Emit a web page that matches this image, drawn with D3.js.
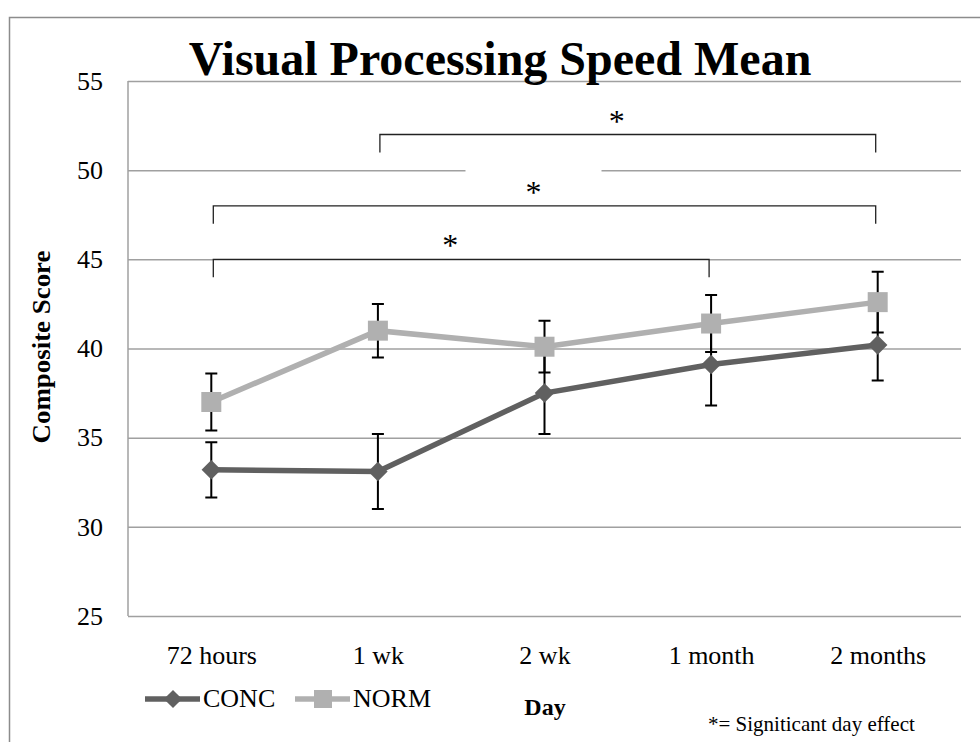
<!DOCTYPE html>
<html>
<head>
<meta charset="utf-8">
<script src="https://cdn.jsdelivr.net/npm/d3@7"></script>
<style>
    body { margin: 0; background: #fff; }
    svg text { font-family: "Liberation Serif", "Times New Roman", serif; }
</style>
</head>
<body>
<div id="chart"></div>
<script>
// values
const days = ["72 hours", "1 wk", "2 wk", "1 month", "2 months"];
const concMean = [33.2, 33.1, 37.5, 39.1, 40.2];
const concErr = [1.55, 2.1, 2.3, 2.3, 2.0];
const normMean = [37.0, 41.0, 40.1, 41.4, 42.6];
const normErr = [1.6, 1.5, 1.45, 1.6, 1.7];
const yTicks = [25, 30, 35, 40, 45, 50, 55];
// significance brackets: day index from -> to, drawn at a score level
const bracketFrom = [1, 0, 0];
const bracketTo = [4, 4, 3];
const bracketLevel = [52, 48, 45];

class Chart {
    constructor() {
        this._width = 980;
        this._height = 742;
        this._margins = {top: 81, left: 128, right: 19, bottom: 126};
        this._svg = null;
        this._body = null;
    }

    getBodyWidth() {
        return this._width - this._margins.left - this._margins.right;
    }

    getBodyHeight() {
        return this._height - this._margins.top - this._margins.bottom;
    }

    renderChart() {
        this._svg = d3.select("#chart").append("svg")
            .attr("width", this._width)
            .attr("height", this._height);

        // outer frame (only top and left edges are in view)
        this._svg.append("path")
            .attr("d", "M9.5,742 V17.5 H980")
            .attr("fill", "none")
            .attr("stroke", "#8c8c8c")
            .attr("stroke-width", 1.5);

        this._body = this._svg.append("g")
            .attr("transform", `translate(${this._margins.left},${this._margins.top})`);

        this._scaleX = d3.scalePoint().domain(days).range([0, this.getBodyWidth()]).padding(0.5);
        this._scaleY = d3.scaleLinear().domain([25, 55]).range([this.getBodyHeight(), 0]);

        this.renderAxes();
        this.renderBrackets();
        this.renderSeries(concMean, concErr, "#606060", "diamond");
        this.renderSeries(normMean, normErr, "#b0b0b0", "square");
        this.renderTexts();
    }

    renderAxes() {
        const x = this._scaleX, y = this._scaleY;

        const yAxis = this._body.append("g")
            .call(d3.axisLeft(y).tickValues(yTicks).tickSize(-this.getBodyWidth()).tickPadding(25).tickFormat(d3.format("d")));
        yAxis.select(".domain").remove();
        yAxis.selectAll(".tick line").attr("stroke", "#a0a0a0").attr("stroke-width", 1.5);
        yAxis.selectAll(".tick text").attr("font-size", 26).attr("fill", "#000")
            .attr("font-family", "'Liberation Serif', serif");

        this._body.append("line")
            .attr("x1", 0).attr("x2", 0)
            .attr("y1", 0).attr("y2", this.getBodyHeight())
            .attr("stroke", "#a0a0a0").attr("stroke-width", 1.5);

        const xAxis = this._body.append("g")
            .attr("transform", `translate(0,${this.getBodyHeight()})`)
            .call(d3.axisBottom(x).tickSize(0).tickPadding(30));
        xAxis.select(".domain").remove();
        xAxis.selectAll(".tick text").attr("font-size", 26).attr("fill", "#000")
            .attr("font-family", "'Liberation Serif', serif");
    }

    renderBrackets() {
        const x = this._scaleX, y = this._scaleY;
        const labels = this._body.append("g");
        const lines = this._body.append("g");
        bracketFrom.forEach((f, i) => {
            const x1 = x(days[f]) + 2, x2 = x(days[bracketTo[i]]) - 2, yy = y(bracketLevel[i]);
            lines.append("path")
                .attr("d", `M${x1},${yy + 18} V${yy} H${x2} V${yy + 18}`)
                .attr("fill", "none")
                .attr("stroke", "#222")
                .attr("stroke-width", 1.3);
            const cx = (x1 + x2) / 2 - 11;
            // white text box behind the star, like the original
            labels.append("rect")
                .attr("x", cx - 68).attr("y", yy - 47)
                .attr("width", 136).attr("height", 38)
                .attr("fill", "#fff");
            labels.append("text")
                .attr("x", cx).attr("y", yy - 3)
                .attr("text-anchor", "middle")
                .attr("font-size", 32)
                .text("*");
        });
    }

    renderSeries(mean, err, color, shape) {
        const x = this._scaleX, y = this._scaleY;
        const g = this._body.append("g");

        // error bars sit underneath the markers
        days.forEach((d, i) => {
            const cx = x(d), top = y(mean[i] + err[i]), bot = y(mean[i] - err[i]);
            g.append("path")
                .attr("d", `M${cx},${top} V${bot} M${cx - 6},${top} H${cx + 6} M${cx - 6},${bot} H${cx + 6}`)
                .attr("stroke", "#000")
                .attr("stroke-width", 2)
                .attr("fill", "none");
        });

        g.append("path")
            .datum(mean)
            .attr("d", d3.line().x((d, i) => x(days[i])).y(d => y(d)))
            .attr("fill", "none")
            .attr("stroke", color)
            .attr("stroke-width", 5.5);

        const sym = d3.symbol().type(d3.symbolSquare).size(shape === "diamond" ? 190 : 400);
        g.selectAll(".pt")
            .data(mean)
            .join("path")
            .attr("d", sym)
            .attr("transform", (d, i) => `translate(${x(days[i])},${y(d)})` + (shape === "diamond" ? " rotate(45)" : ""))
            .attr("fill", color);
    }

    renderTexts() {
        const svg = this._svg;

        svg.append("text")
            .attr("x", 500).attr("y", 75)
            .attr("text-anchor", "middle")
            .attr("font-size", 48)
            .attr("font-weight", "bold")
            .text("Visual Processing Speed Mean");

        svg.append("text")
            .attr("transform", "translate(50,347) rotate(-90)")
            .attr("text-anchor", "middle")
            .attr("font-size", 25)
            .attr("font-weight", "bold")
            .attr("textLength", 193)
            .attr("lengthAdjust", "spacingAndGlyphs")
            .text("Composite Score");

        svg.append("text")
            .attr("x", 545).attr("y", 715)
            .attr("text-anchor", "middle")
            .attr("font-size", 24)
            .attr("font-weight", "bold")
            .text("Day");

        svg.append("text")
            .attr("x", 708).attr("y", 731)
            .attr("font-size", 21)
            .text("*= Signiticant day effect");

        // legend
        const legend = svg.append("g");
        const items = [
            {name: "CONC", color: "#606060", shape: "diamond", x: 145},
            {name: "NORM", color: "#b0b0b0", shape: "square", x: 295}
        ];
        items.forEach(it => {
            const ly = 699;
            legend.append("line")
                .attr("x1", it.x).attr("x2", it.x + 55)
                .attr("y1", ly).attr("y2", ly)
                .attr("stroke", it.color).attr("stroke-width", 5.5);
            legend.append("path")
                .attr("d", d3.symbol().type(d3.symbolSquare).size(it.shape === "diamond" ? 165 : 324))
                .attr("transform", `translate(${it.x + 28},${ly})` + (it.shape === "diamond" ? " rotate(45)" : ""))
                .attr("fill", it.color);
            legend.append("text")
                .attr("x", it.x + 58).attr("y", ly + 8)
                .attr("font-size", 26)
                .text(it.name);
        });
    }
}

new Chart().renderChart();
</script>
</body>
</html>
